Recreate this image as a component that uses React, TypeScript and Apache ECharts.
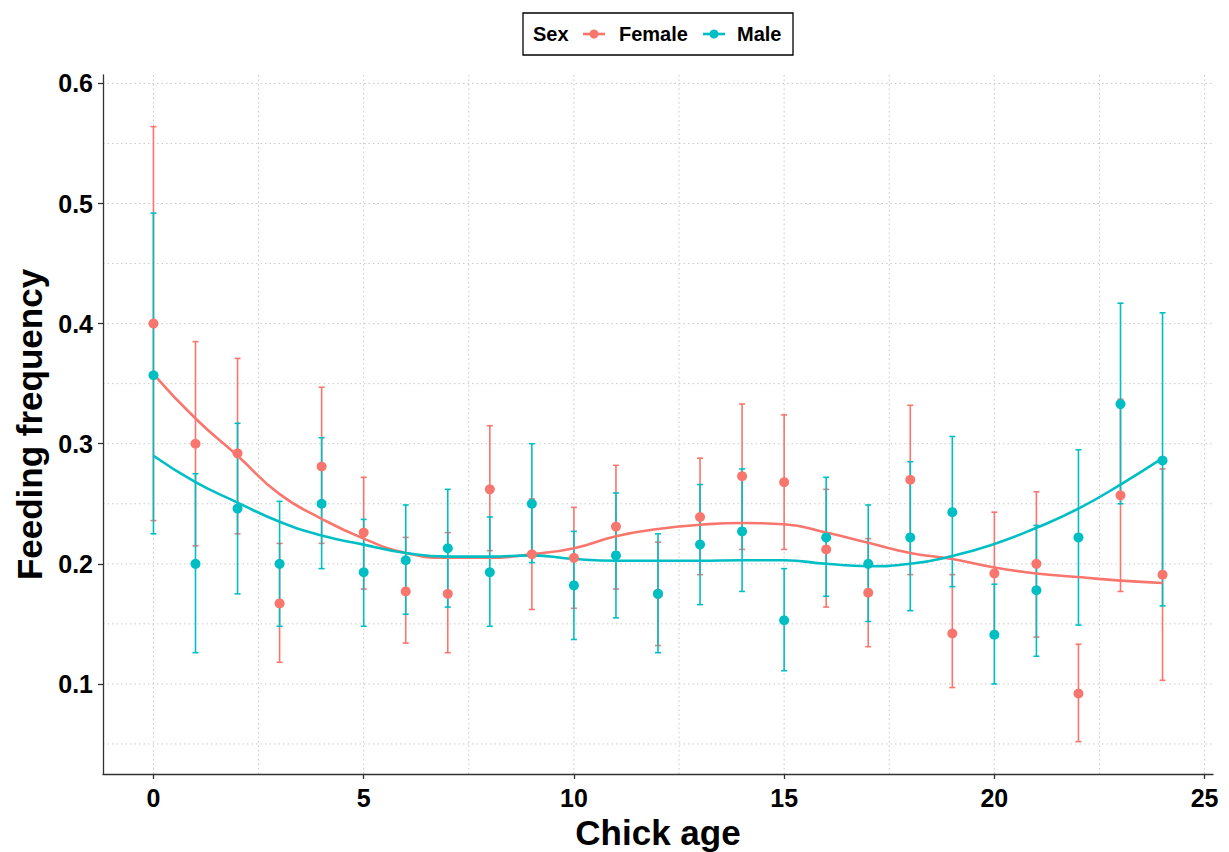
import React, { useEffect, useRef } from "react";
import * as echarts from "echarts";

const ages = [0, 1, 2, 3, 4, 5, 6, 7, 8, 9, 10, 11, 12, 13, 14, 15, 16, 17, 18, 19, 20, 21, 22, 23, 24];

const femaleMean = [0.400, 0.300, 0.292, 0.167, 0.281, 0.226, 0.177, 0.175, 0.262, 0.208, 0.205, 0.231, 0.175, 0.239, 0.273, 0.268, 0.212, 0.176, 0.270, 0.142, 0.192, 0.200, 0.092, 0.257, 0.191];
const femaleLow = [0.236, 0.215, 0.225, 0.118, 0.217, 0.179, 0.134, 0.126, 0.211, 0.162, 0.163, 0.179, 0.132, 0.191, 0.212, 0.212, 0.164, 0.131, 0.191, 0.097, 0.141, 0.139, 0.052, 0.177, 0.103];
const femaleHigh = [0.564, 0.385, 0.371, 0.217, 0.347, 0.272, 0.222, 0.226, 0.315, 0.254, 0.247, 0.282, 0.218, 0.288, 0.333, 0.324, 0.262, 0.221, 0.332, 0.191, 0.243, 0.260, 0.133, 0.337, 0.279];

const maleMean = [0.357, 0.200, 0.246, 0.200, 0.250, 0.193, 0.203, 0.213, 0.193, 0.250, 0.182, 0.207, 0.175, 0.216, 0.227, 0.153, 0.222, 0.200, 0.222, 0.243, 0.141, 0.178, 0.222, 0.333, 0.286];
const maleLow = [0.225, 0.126, 0.175, 0.148, 0.196, 0.148, 0.158, 0.164, 0.148, 0.201, 0.137, 0.155, 0.126, 0.166, 0.177, 0.111, 0.173, 0.152, 0.161, 0.181, 0.100, 0.123, 0.149, 0.250, 0.165];
const maleHigh = [0.492, 0.275, 0.317, 0.252, 0.305, 0.237, 0.249, 0.262, 0.239, 0.300, 0.227, 0.259, 0.225, 0.266, 0.279, 0.196, 0.272, 0.249, 0.285, 0.306, 0.183, 0.232, 0.295, 0.417, 0.409];

const femaleFit = [0.358, 0.321, 0.290, 0.258, 0.2375, 0.221, 0.209, 0.205, 0.205, 0.208, 0.213, 0.223, 0.229, 0.2325, 0.234, 0.233, 0.226, 0.2175, 0.209, 0.204, 0.197, 0.192, 0.189, 0.186, 0.184];
const maleFit = [0.290, 0.268, 0.251, 0.235, 0.2235, 0.216, 0.209, 0.206, 0.206, 0.207, 0.204, 0.2025, 0.2025, 0.2025, 0.203, 0.203, 0.200, 0.198, 0.200, 0.2065, 0.2165, 0.230, 0.246, 0.266, 0.288];

const xTicks = [0, 5, 10, 15, 20, 25];
const xMinor = [2.5, 7.5, 12.5, 17.5, 22.5];
const yTicks = [0.1, 0.2, 0.3, 0.4, 0.5, 0.6];
const yMinor = [0.05, 0.15, 0.25, 0.35, 0.45, 0.55];

const FEMALE = "#F8766D";
const MALE = "#00BFC4";
const FONT = "'Liberation Sans', Arial, sans-serif";

function errorBarSeries(name: string, color: string, low: number[], high: number[]) {
  return {
    name,
    type: "custom",
    z: 2,
    silent: true,
    data: ages.map((a, i) => [a, low[i], high[i]]),
    encode: { x: 0, y: [1, 2] },
    renderItem: (params: any, api: any) => {
      const x = api.value(0);
      const pLo = api.coord([x, api.value(1)]);
      const pHi = api.coord([x, api.value(2)]);
      const hw = 3;
      const st = { stroke: color, lineWidth: 1.6 };
      return {
        type: "group",
        children: [
          { type: "line", shape: { x1: pLo[0], y1: pLo[1], x2: pHi[0], y2: pHi[1] }, style: st },
          { type: "line", shape: { x1: pLo[0] - hw, y1: pLo[1], x2: pLo[0] + hw, y2: pLo[1] }, style: st },
          { type: "line", shape: { x1: pHi[0] - hw, y1: pHi[1], x2: pHi[0] + hw, y2: pHi[1] }, style: st },
        ],
      };
    },
  };
}

export default function App() {
  const ref = useRef<HTMLDivElement>(null);
  useEffect(() => {
    if (!ref.current) return;
    const chart = echarts.init(ref.current, null, { renderer: "svg" });
    const gridStyle = { stroke: "#c9c9c9", lineWidth: 1, lineDash: [1.5, 3] };
    const option: any = {
      animation: false,
      backgroundColor: "#ffffff",
      textStyle: { fontFamily: FONT },
      grid: { left: 103, right: 16, top: 75, bottom: 78, containLabel: false, outerBoundsMode: "none" },
      xAxis: {
        type: "value",
        min: -1.2,
        max: 25.2,
        name: "Chick age",
        nameLocation: "middle",
        nameGap: 57,
        nameTextStyle: { fontSize: 35, fontWeight: "bold", color: "#000", fontFamily: FONT, verticalAlign: "middle" },
        axisLine: { show: true, onZero: false, lineStyle: { color: "#333", width: 1.3 } },
        axisTick: { show: true, length: 5, customValues: xTicks, lineStyle: { color: "#333", width: 1.3 } },
        axisLabel: { customValues: xTicks, margin: 11, fontSize: 25, fontWeight: "bold", color: "#000", fontFamily: FONT },
        splitLine: { show: false },
      },
      yAxis: {
        type: "value",
        min: 0.025,
        max: 0.607,
        name: "Feeding frequency",
        nameLocation: "middle",
        nameGap: 73,
        nameRotate: 90,
        nameTextStyle: { fontSize: 35, fontWeight: "bold", color: "#000", fontFamily: FONT, verticalAlign: "middle" },
        axisLine: { show: true, onZero: false, lineStyle: { color: "#333", width: 1.3 } },
        axisTick: { show: true, length: 5, customValues: yTicks, lineStyle: { color: "#333", width: 1.3 } },
        axisLabel: {
          customValues: yTicks,
          margin: 10,
          fontSize: 25,
          fontWeight: "bold",
          color: "#000",
          fontFamily: FONT,
          formatter: (v: number) => v.toFixed(1),
        },
        splitLine: { show: false },
      },
      series: [
        {
          name: "grid",
          type: "custom",
          z: 0,
          silent: true,
          data: [[0, 0.3]],
          encode: { x: 0, y: 1 },
          clip: false,
          renderItem: (params: any, api: any) => {
            const cs = params.coordSys;
            const children: any[] = [];
            [...xTicks, ...xMinor].forEach((v) => {
              const p = api.coord([v, 0.3]);
              children.push({ type: "line", shape: { x1: p[0], y1: cs.y, x2: p[0], y2: cs.y + cs.height }, style: gridStyle });
            });
            [...yTicks, ...yMinor].forEach((v) => {
              const p = api.coord([0, v]);
              children.push({ type: "line", shape: { x1: cs.x, y1: p[1], x2: cs.x + cs.width, y2: p[1] }, style: gridStyle });
            });
            return { type: "group", children };
          },
        },
        errorBarSeries("Female bars", FEMALE, femaleLow, femaleHigh),
        errorBarSeries("Male bars", MALE, maleLow, maleHigh),
        {
          name: "Female fit",
          type: "line",
          z: 3,
          smooth: true,
          showSymbol: false,
          data: ages.map((a, i) => [a, femaleFit[i]]),
          lineStyle: { color: FEMALE, width: 2.6 },
          itemStyle: { color: FEMALE },
        },
        {
          name: "Male fit",
          type: "line",
          z: 3,
          smooth: true,
          showSymbol: false,
          data: ages.map((a, i) => [a, maleFit[i]]),
          lineStyle: { color: MALE, width: 2.6 },
          itemStyle: { color: MALE },
        },
        {
          name: "Female",
          type: "scatter",
          z: 4,
          symbol: "circle",
          symbolSize: 10,
          data: ages.map((a, i) => [a, femaleMean[i]]),
          itemStyle: { color: FEMALE, opacity: 1 },
        },
        {
          name: "Male",
          type: "scatter",
          z: 4,
          symbol: "circle",
          symbolSize: 10,
          data: ages.map((a, i) => [a, maleMean[i]]),
          itemStyle: { color: MALE, opacity: 1 },
        },
      ],
      graphic: [
        {
          type: "rect",
          shape: { x: 523, y: 13, width: 270, height: 42 },
          style: { fill: "#fff", stroke: "#000", lineWidth: 1.3 },
        },
        { type: "text", x: 533, y: 34, style: { text: "Sex", font: `bold 20px ${FONT}`, fill: "#000", verticalAlign: "middle" } },
        { type: "line", shape: { x1: 583, y1: 34, x2: 605, y2: 34 }, style: { stroke: FEMALE, lineWidth: 2.6 } },
        { type: "circle", shape: { cx: 594, cy: 34, r: 4.5 }, style: { fill: FEMALE } },
        { type: "text", x: 619, y: 34, style: { text: "Female", font: `bold 20px ${FONT}`, fill: "#000", verticalAlign: "middle" } },
        { type: "line", shape: { x1: 703, y1: 34, x2: 725, y2: 34 }, style: { stroke: MALE, lineWidth: 2.6 } },
        { type: "circle", shape: { cx: 714, cy: 34, r: 4.5 }, style: { fill: MALE } },
        { type: "text", x: 737, y: 34, style: { text: "Male", font: `bold 20px ${FONT}`, fill: "#000", verticalAlign: "middle" } },
      ],
    };
    chart.setOption(option);
    return () => chart.dispose();
  }, []);
  return <div ref={ref} style={{ position: "fixed", left: 0, top: 0, width: 1229, height: 852 }} />;
}
